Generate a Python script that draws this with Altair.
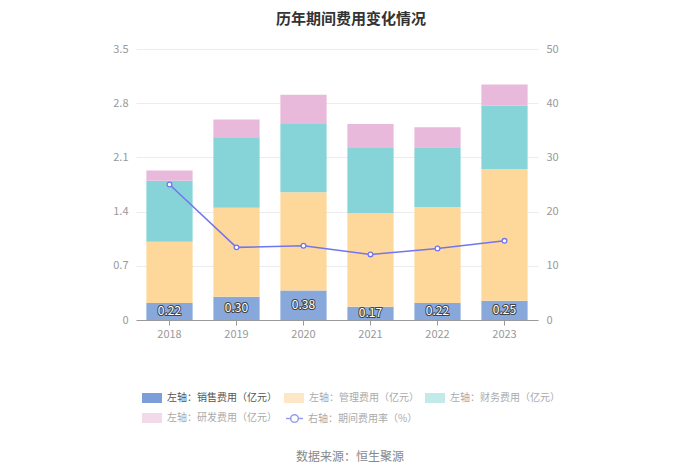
import altair as alt
import pandas as pd

years = ["2018", "2019", "2020", "2021", "2022", "2023"]
sales = [0.22, 0.30, 0.38, 0.17, 0.22, 0.25]
mgmt = [0.79, 1.15, 1.27, 1.21, 1.24, 1.70]
fin = [0.79, 0.90, 0.88, 0.84, 0.77, 0.82]
rd = [0.13, 0.24, 0.38, 0.31, 0.26, 0.27]
rate = [25.0, 13.4, 13.7, 12.1, 13.2, 14.6]

series_names = ["左轴：销售费用（亿元）", "左轴：管理费用（亿元）", "左轴：财务费用（亿元）", "左轴：研发费用（亿元）"]
line_name = "右轴：期间费用率（%）"
bar_colors = ["#88a8dc", "#fed89b", "#87d4d8", "#e8b9da"]
legend_colors = ["#7b9ed8", "#fde7c6", "#c2eaeb", "#f2daeb"]
line_color = "#7375ee"
left_ticks = [0, 0.7, 1.4, 2.1, 2.8, 3.5]
right_ticks = [0, 10, 20, 30, 40, 50]
title_text = "历年期间费用变化情况"
source_text = "数据来源：恒生聚源"

FONT = "Noto Sans CJK SC"

rows = []
for i, y in enumerate(years):
    for k, vals in enumerate([sales, mgmt, fin, rd]):
        rows.append({"year": y, "series": series_names[k], "idx": k, "value": vals[i]})
bar_df = pd.DataFrame(rows)
df = pd.DataFrame({"year": years, "sales": sales, "rate": rate})

x_enc = alt.X("year:N", scale=alt.Scale(paddingInner=0.31, paddingOuter=0.155),
              axis=alt.Axis(title=None, labelAngle=0, domainColor="#999", tickColor="#999",
                            tickSize=5, labelColor="#999", labelFontSize=11, labelPadding=3,
                            labelFont=FONT))
left_scale = alt.Scale(domain=[0, 3.5], nice=False)
left_axis = alt.Axis(title=None, values=left_ticks, grid=True, gridColor="#ebebf0",
                     domain=False, ticks=False, labelColor="#999", labelFontSize=11,
                     labelPadding=8, labelFont=FONT,
                     labelExpr="datum.value == 0 ? '0' : format(datum.value, '.1f')")

bars = alt.Chart(bar_df).mark_bar().encode(
    x=x_enc,
    y=alt.Y("value:Q", stack="zero", scale=left_scale, axis=left_axis),
    color=alt.Color("series:N", scale=alt.Scale(domain=series_names, range=bar_colors), legend=None),
    order=alt.Order("idx:Q", sort="ascending"),
)

lab_base = alt.Chart(df).transform_calculate(mid="datum.sales / 2").encode(
    x=alt.X("year:N"),
    y=alt.Y("mid:Q", scale=left_scale, axis=left_axis),
    text=alt.Text("sales:Q", format=".2f"),
)
lab_stroke = lab_base.mark_text(fontSize=12, font=FONT, color="#444", stroke="#444", strokeWidth=2, baseline="middle")
lab_fill = lab_base.mark_text(fontSize=12, font=FONT, color="white", baseline="middle")

left = alt.layer(bars, lab_stroke, lab_fill)

line_base = alt.Chart(df).encode(
    x=alt.X("year:N"),
    y=alt.Y("rate:Q", scale=alt.Scale(domain=[0, 50], nice=False),
            axis=alt.Axis(title=None, orient="right", values=right_ticks, grid=False,
                          domain=False, ticks=False, labelColor="#999", labelFontSize=11,
                          labelPadding=8, labelFont=FONT)),
)
line = line_base.mark_line(color=line_color, strokeWidth=1.5)
pts = line_base.mark_point(shape="circle", filled=True, fill="white", stroke=line_color,
                           strokeWidth=1.3, size=22, opacity=1)
right = alt.layer(line, pts)

RECT = "M-1,-0.5L1,-0.5L1,0.5L-1,0.5Z"
LINESYM = "M-1,0L-0.45,0M0.45,0L1,0M0.45,0A0.45,0.45,0,1,1,-0.45,0A0.45,0.45,0,1,1,0.45,0"


def legend_layer(key, name, color, lx, ly, label_color, sym, size, is_line=False):
    opts = dict(title=None, orient="none", legendX=lx, legendY=ly, symbolType=sym,
                symbolSize=size, symbolOpacity=1, labelColor=label_color, labelFontSize=10,
                labelFont=FONT, labelOffset=5, padding=0, labelLimit=300)
    if is_line:
        opts.update(symbolFillColor="white", symbolStrokeWidth=1.5, labelOffset=4)
        mark = alt.Chart(df).mark_point(opacity=0, size=1, filled=False, shape="circle")
    else:
        opts.update(symbolFillColor=color, symbolStrokeWidth=0)
        mark = alt.Chart(df).mark_square(opacity=0, size=1)
    return mark.transform_calculate(**{key: f"'{name}'"}).encode(
        color=alt.Color(f"{key}:N", scale=alt.Scale(domain=[name], range=[color]),
                        legend=alt.Legend(**opts))
    )


lg = [
    legend_layer("l0", series_names[0], legend_colors[0], 6, 339, "#555", RECT, 400),
    legend_layer("l1", series_names[1], legend_colors[1], 148, 339, "#aaa", RECT, 400),
    legend_layer("l2", series_names[2], legend_colors[2], 289, 339, "#aaa", RECT, 400),
    legend_layer("l3", series_names[3], legend_colors[3], 6, 359, "#aaa", RECT, 400),
    legend_layer("l4", line_name, "#9a9cf2", 149, 360, "#aaa", LINESYM, 289, is_line=True),
]

src = alt.Chart(pd.DataFrame({"t": [source_text]})).mark_text(
    fontSize=12, font=FONT, color="#888", align="center", baseline="middle"
).encode(text="t:N", x=alt.value(214), y=alt.value(408))

chart = alt.layer(left, right, *lg, src).resolve_scale(y="independent", color="independent").properties(
    width=402, height=271,
    autosize=alt.AutoSizeParams(type="none"),
    padding={"left": 128, "top": 41, "right": 154, "bottom": 150},
    title=alt.TitleParams(title_text, fontSize=15, fontWeight="bold", color="#333", font=FONT,
                          anchor="middle", dx=14, offset=16),
).configure_view(stroke=None)

chart.save("out.html", embed_options={"renderer": "svg", "actions": False})
